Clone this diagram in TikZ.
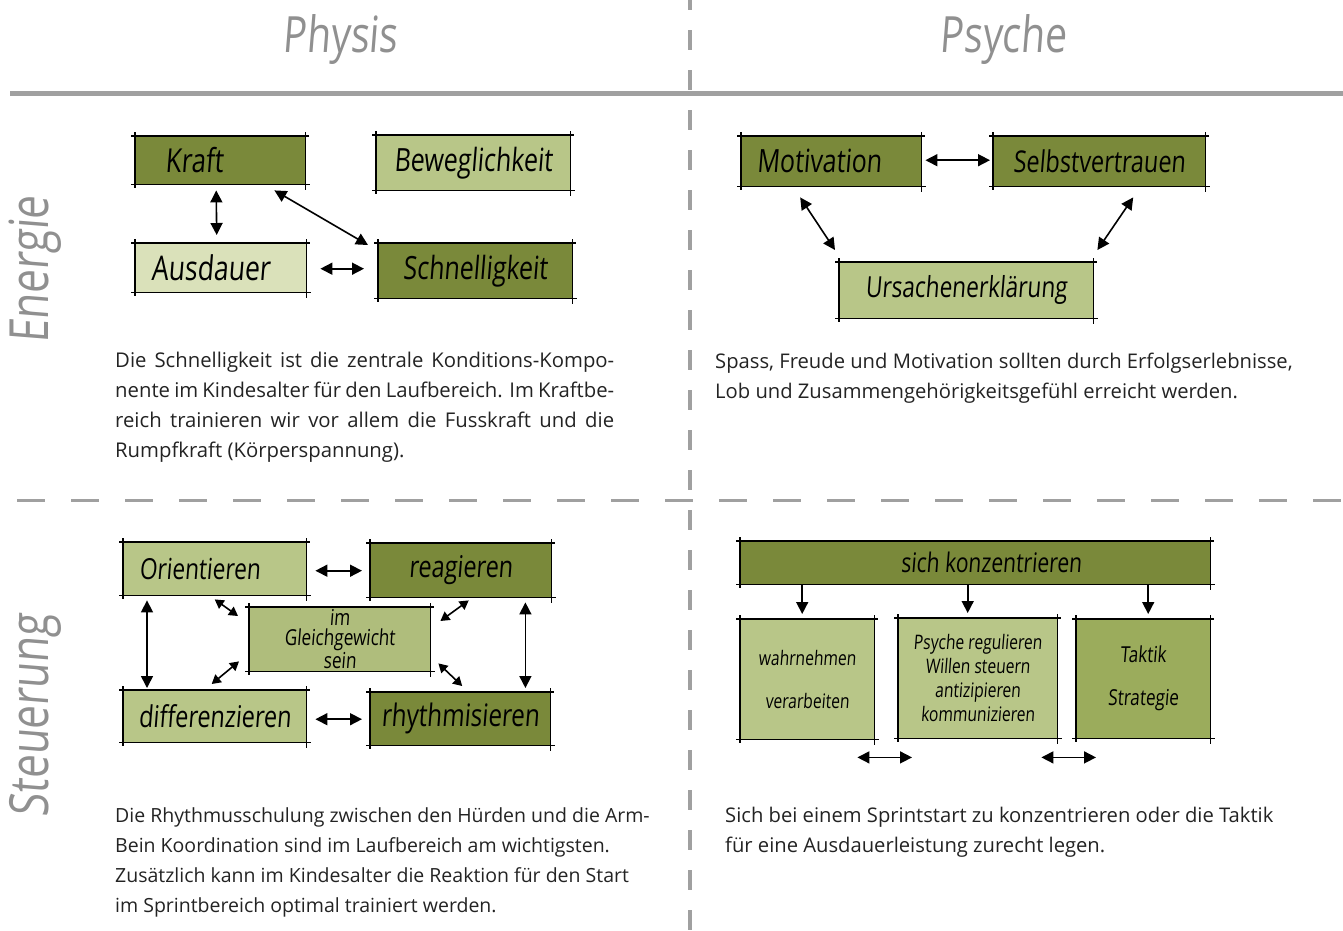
\documentclass[tikz,border=0pt]{standalone}
\usepackage{fontspec}
\setmainfont{Open Sans}
\newfontfamily\hand[FakeStretch=0.78,FakeSlant=0.08]{Open Sans}
\usetikzlibrary{arrows.meta}
\definecolor{gdark}{RGB}{122,137,58}
\definecolor{gmid}{RGB}{184,198,136}
\definecolor{glight}{RGB}{218,225,186}
\definecolor{gtakt}{RGB}{155,172,92}
\definecolor{rule}{RGB}{160,160,160}
\definecolor{bodytext}{RGB}{35,35,35}
\newcommand\hsz[1]{\hand\fontsize{#1}{#1}\selectfont}
\begin{document}
\begin{tikzpicture}[x=1pt,y=-1pt,
  box/.style={inner sep=0pt, anchor=north west, align=center, text=black},
  edge/.style={line width=1.8pt, black},
  arr/.style={line width=1.6pt, {Triangle[length=12pt,width=12pt]}-{Triangle[length=12pt,width=12pt]}},
  sarr/.style={line width=1.6pt, {Triangle[length=9pt,width=10pt]}-{Triangle[length=9pt,width=10pt]}},
  darr/.style={line width=1.6pt, -{Triangle[length=12pt,width=12pt]}},
  body/.style={anchor=north west, align=left, text=bodytext, inner sep=0pt, font=\fontsize{19.5}{30}\selectfont},
  bodyw/.style={body, font=\fontsize{20.2}{30}\selectfont},
  head/.style={text=rule!90!black, font=\hsz{50}},
  side/.style={text=rule!90!black, font=\hsz{54}, rotate=90},
]
\useasboundingbox (0,0) rectangle (1343,930);
% rules
\draw[rule, line width=5pt] (10,93) -- (1343,93);
\draw[rule, line width=4.5pt, dash pattern=on 20pt off 20pt, dash phase=10pt] (690,0) -- (690,930);
\draw[rule, line width=3pt, dash pattern=on 28pt off 26pt] (17,500) -- (1343,500);
% headers
\node[head] (physis) at (340,40) {Physis};
\node[head] (psyche) at (1003,40) {Psyche};
\node[side] (energie) at (35,270) {Energie};
\node[side] (steuerung) at (35,716) {Steuerung};

% Energie / Physis
\node[box, fill=gdark, minimum width=170pt, minimum height=48pt, font=\hsz{33}] (kraft) at (135,136) {Kraft\hspace*{52pt}};
\node[box, fill=gmid, minimum width=194pt, minimum height=55pt, font=\hsz{32}] (bew) at (376,135) {Beweglichkeit};
\node[box, fill=glight, minimum width=171pt, minimum height=49pt, font=\hsz{34}] (ausd) at (135,243) {Ausdauer\hspace*{20pt}};
\node[box, fill=gdark, minimum width=194pt, minimum height=55pt, font=\hsz{32}] (schn) at (378,243) {Schnelligkeit};

% Energie / Psyche
\node[box, fill=gdark, minimum width=180pt, minimum height=50pt, font=\hsz{32}] (moti) at (741,136) {Motivation\hspace*{24pt}};
\node[box, fill=gdark, minimum width=212pt, minimum height=50pt, font=\hsz{30}] (selbst) at (993,136) {Selbstvertrauen};
\node[box, fill=gmid, minimum width=254pt, minimum height=56pt, font=\hsz{29}] (ursa) at (839,262) {Ursachenerklärung};

% Steuerung / Physis
\node[box, fill=gmid, minimum width=183pt, minimum height=53pt, font=\hsz{29}] (orient) at (123,542) {Orientieren\hspace*{30pt}};
\node[box, fill=gdark, minimum width=181pt, minimum height=54pt, font=\hsz{30}] (reag) at (370,543) {reagieren};
\node[box, fill=gmid!85!gdark, minimum width=181pt, minimum height=64pt, font=\hand\fontsize{22}{20}\selectfont] (gleich) at (249,607) {im\\Gleichgewicht\\sein};
\node[box, fill=gmid, minimum width=183pt, minimum height=52pt, font=\hsz{30}] (diff) at (123,690) {differenzieren};
\node[box, fill=gdark, minimum width=180pt, minimum height=53pt, font=\hsz{31}] (rhyt) at (370,692) {rhythmisieren};

% Steuerung / Psyche
\node[box, fill=gdark, minimum width=470pt, minimum height=43pt, font=\hsz{27}] (konz) at (740,541) {\hspace*{32pt}sich konzentrieren};
\node[box, fill=gmid, minimum width=134pt, minimum height=120pt, font=\hand\fontsize{20}{43}\selectfont] (wahr) at (740,619) {wahrnehmen\\verarbeiten};
\node[box, fill=gmid, minimum width=159pt, minimum height=120pt, font=\hand\fontsize{20}{24}\selectfont] (psy) at (898,618) {Psyche regulieren\\Willen steuern\\antizipieren\\kommunizieren};
\node[box, fill=gtakt, minimum width=134pt, minimum height=119pt, font=\hand\fontsize{22}{43}\selectfont] (takt) at (1076,619) {Taktik\\Strategie};

% sketchy box edges
\foreach \n in {kraft,bew,ausd,schn,moti,selbst,ursa,orient,reag,gleich,diff,rhyt,konz,wahr,psy,takt}{
  \draw[edge] ([xshift=-4pt]\n.north west) -- ([xshift=4pt]\n.north east);
  \draw[edge] ([xshift=-4pt]\n.south west) -- ([xshift=5pt]\n.south east);
  \draw[edge] ([yshift=4pt]\n.north west) -- ([yshift=-4pt]\n.south west);
  \draw[edge] ([yshift=4pt]\n.north east) -- ([yshift=-6pt]\n.south east);
}

% connectors Energie / Physis
\draw[arr] ([xshift=-4pt,yshift=-6pt]kraft.south) -- ([xshift=-4pt,yshift=8pt]ausd.north);
\draw[arr] ([xshift=-31pt,yshift=-6pt]kraft.south east) -- ([xshift=-10pt,yshift=-2pt]schn.north west);
\draw[arr] ([xshift=14pt,yshift=-1pt]ausd.east) -- ([xshift=-14pt,yshift=-1pt]ausd.east -| schn.west);

% connectors Energie / Psyche
\draw[arr] ([xshift=4pt,yshift=1pt]moti.east) -- ([xshift=-3pt,yshift=1pt]selbst.west);
\draw[arr] ([xshift=-31pt,yshift=-11pt]moti.south) -- ([xshift=-4pt,yshift=12pt]ursa.north west);
\draw[arr] ([xshift=34pt,yshift=-11pt]selbst.south) -- ([xshift=4pt,yshift=12pt]ursa.north east);

% connectors Steuerung / Physis
\draw[arr] ([xshift=9pt,yshift=-2pt]orient.east) -- ([xshift=-8pt,yshift=-2pt]orient.east -| reag.west);
\draw[arr] ([xshift=9pt,yshift=-3pt]diff.east) -- ([xshift=-8pt,yshift=-3pt]diff.east -| rhyt.west);
\draw[arr] ([xshift=24pt,yshift=-5pt]orient.south west) -- ([xshift=24pt,yshift=2pt]diff.north west);
\draw[arr] ([xshift=-26pt,yshift=-5pt]reag.south east) -- ([xshift=-25pt,yshift=4pt]rhyt.north east);
\draw[sarr] ([xshift=0pt,yshift=-4pt]orient.south) -- ([xshift=-11pt,yshift=-9pt]gleich.north west);
\draw[sarr] ([xshift=-10pt,yshift=10pt]gleich.south west) -- ([xshift=-3pt,yshift=6pt]diff.north);
\draw[sarr] ([xshift=8pt,yshift=-3pt]reag.south) -- ([xshift=10pt,yshift=-14pt]gleich.north east);
\draw[sarr] ([xshift=8pt,yshift=8pt]gleich.south east) -- ([xshift=2pt,yshift=6pt]rhyt.north);

% connectors Steuerung / Psyche
\draw[darr] ([xshift=-5pt]wahr.north |- konz.south) -- ([xshift=-5pt,yshift=5pt]wahr.north);
\draw[darr] ([xshift=-10pt]psy.north |- konz.south) -- ([xshift=-10pt,yshift=5pt]psy.north);
\draw[darr] ([xshift=5pt]takt.north |- konz.south) -- ([xshift=5pt,yshift=5pt]takt.north);
\draw[arr] ([xshift=-17pt,yshift=-18pt]wahr.south east) -- ([xshift=14pt,yshift=-19pt]psy.south west);
\draw[arr] ([xshift=-16pt,yshift=-19pt]psy.south east) -- ([xshift=20pt,yshift=-19pt]takt.south west);

% body texts
\node[body, font=\fontsize{20.3}{30}\selectfont] (t1) at (115,352) {\makebox[499pt][s]{Die Schnelligkeit ist die zentrale Konditions-Kompo-}\\
\makebox[499pt][s]{nente im Kindesalter für den Laufbereich. Im Kraftbe-}\\
\makebox[499pt][s]{reich trainieren wir vor allem die Fusskraft und die}\\
Rumpfkraft (Körperspannung).};
\node[bodyw] (t2) at (715,353) {Spass, Freude und Motivation sollten durch Erfolgserlebnisse,\\
Lob und Zusammengehörigkeitsgefühl erreicht werden.};
\node[body] (t3) at (115,807) {Die Rhythmusschulung zwischen den Hürden und die Arm-\\
Bein Koordination sind im Laufbereich am wichtigsten.\\
Zusätzlich kann im Kindesalter die Reaktion für den Start\\
im Sprintbereich optimal trainiert werden.};
\node[bodyw] (t4) at (725,807) {Sich bei einem Sprintstart zu konzentrieren oder die Taktik\\
für eine Ausdauerleistung zurecht legen.};
\end{tikzpicture}
\end{document}
